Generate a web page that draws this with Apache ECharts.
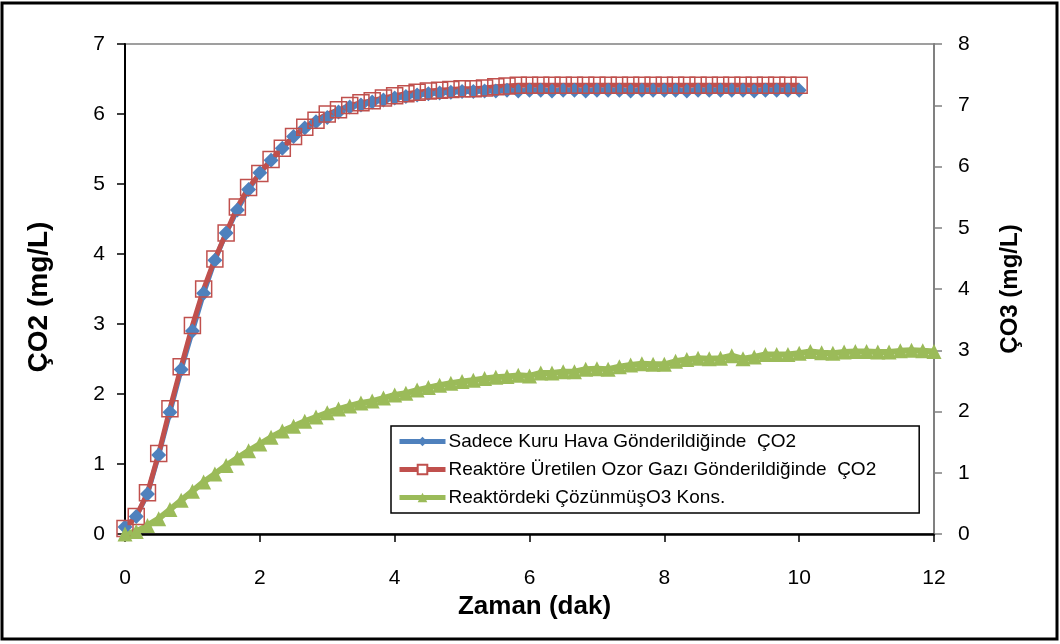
<!DOCTYPE html>
<html>
<head>
<meta charset="utf-8">
<script src="https://cdn.jsdelivr.net/npm/echarts@6/dist/echarts.min.js"></script>
<style>
  html, body { margin: 0; padding: 0; background: #fff; }
  #chart { width: 1060px; height: 644px; }
</style>
</head>
<body>
<div id="chart"></div>
<script>
// Samples were taken every 10 seconds; times are expressed in minutes.
const sampleIntervalSec = 10;

// CO2 (mg/L) with dry air only
const co2DryAir = [
  0.10, 0.25, 0.57, 1.13, 1.74, 2.35, 2.90, 3.44, 3.91, 4.30,
  4.63, 4.92, 5.16, 5.34, 5.51, 5.68, 5.80, 5.89, 5.95, 6.03,
  6.10, 6.13, 6.17, 6.20, 6.23, 6.25, 6.27, 6.29, 6.30, 6.31,
  6.32, 6.32, 6.33, 6.33, 6.34, 6.33, 6.34, 6.34, 6.33, 6.34,
  6.34, 6.33, 6.34, 6.34, 6.34, 6.33, 6.34, 6.34, 6.34, 6.34,
  6.33, 6.34, 6.34, 6.34, 6.34, 6.34, 6.33, 6.34, 6.34, 6.34,
  6.34
];

// CO2 (mg/L) with ozone gas fed to the reactor
const co2OzoneGas = [
  0.08, 0.25, 0.59, 1.15, 1.79, 2.39, 2.98, 3.50, 3.93, 4.30,
  4.67, 4.95, 5.15, 5.35, 5.51, 5.68, 5.81, 5.91, 6.00, 6.06,
  6.12, 6.16, 6.19, 6.23, 6.26, 6.29, 6.31, 6.33, 6.34, 6.35,
  6.36, 6.36, 6.37, 6.39, 6.40, 6.41, 6.41, 6.41, 6.41, 6.41,
  6.41, 6.41, 6.41, 6.41, 6.41, 6.41, 6.41, 6.41, 6.41, 6.41,
  6.41, 6.41, 6.41, 6.41, 6.41, 6.41, 6.41, 6.41, 6.41, 6.41,
  6.41
];

// Dissolved O3 (mg/L) in the reactor
const o3Dissolved = [
  0.00, 0.04, 0.14, 0.25, 0.40, 0.55, 0.70, 0.85, 0.98, 1.12,
  1.24, 1.36, 1.47, 1.58, 1.68, 1.76, 1.84, 1.91, 1.98, 2.04,
  2.09, 2.14, 2.17, 2.22, 2.27, 2.30, 2.35, 2.39, 2.43, 2.46,
  2.49, 2.51, 2.54, 2.56, 2.57, 2.59, 2.58, 2.63, 2.63, 2.65,
  2.65, 2.69, 2.70, 2.69, 2.73, 2.76, 2.78, 2.77, 2.77, 2.82,
  2.85, 2.87, 2.86, 2.87, 2.91, 2.86, 2.89, 2.93, 2.93, 2.93,
  2.95, 2.98, 2.96, 2.95, 2.97, 2.98, 2.98, 2.97, 2.97, 2.99,
  3.00, 2.99, 2.98
];

const seriesNames = [
  'Sadece Kuru Hava Gönderildiğinde  ÇO2',
  'Reaktöre Üretilen Ozor Gazı Gönderildiğinde  ÇO2',
  'Reaktördeki ÇözünmüşO3 Kons.'
];
const xAxisTitle = 'Zaman (dak)';
const leftAxisTitle = 'ÇO2 (mg/L)';
const rightAxisTitle = 'ÇO3 (mg/L)';

const FONT = '"Liberation Sans", Arial, sans-serif';
const BLUE = '#4F81BD', RED = '#C0504D', GREEN = '#9BBB59';

const toPoints = arr => arr.map((v, i) => [i * sampleIntervalSec / 60, v]);

const chart = echarts.init(document.getElementById('chart'), null, { renderer: 'canvas' });

chart.setOption({
  animation: false,
  backgroundColor: '#fff',
  textStyle: { fontFamily: FONT, color: '#000' },
  graphic: [{
    type: 'rect',
    shape: { x: 2, y: 3, width: 1055, height: 636 },
    style: { fill: 'none', stroke: '#000', lineWidth: 3 },
    silent: true
  }],
  grid: {
    left: 125, right: 126, top: 44, bottom: 110,
    show: true, borderColor: '#808080', borderWidth: 1.5, backgroundColor: '#fff'
  },
  legend: {
    orient: 'vertical',
    left: 391, top: 426,
    padding: [6, 43, 6, 6],
    itemGap: 9,
    itemWidth: 46, itemHeight: 12,
    borderColor: '#000', borderWidth: 1.5,
    backgroundColor: '#fff',
    lineStyle: { width: 5 },
    textStyle: { fontFamily: FONT, fontSize: 19, color: '#000', padding: [0, 0, 0, -2] },
    data: [
      { name: seriesNames[0] },
      { name: seriesNames[1], itemStyle: { color: '#fff' } },
      { name: seriesNames[2] }
    ]
  },
  xAxis: {
    type: 'value', min: 0, max: 12, interval: 2,
    axisLine: { show: true, onZero: false, lineStyle: { color: '#000', width: 2.5 } },
    axisTick: { show: true, length: 8, lineStyle: { color: '#000', width: 1.5 } },
    splitLine: { show: false },
    axisLabel: { fontSize: 21, color: '#000', margin: 34, fontFamily: FONT },
    name: xAxisTitle, nameLocation: 'middle', nameGap: 56,
    nameTextStyle: { fontSize: 26, fontWeight: 'bold', color: '#000', fontFamily: FONT, padding: [0, 0, 0, 10] }
  },
  yAxis: [{
    type: 'value', min: 0, max: 7, interval: 1, position: 'left',
    axisLine: { show: true, onZero: false, lineStyle: { color: '#000', width: 2 } },
    axisTick: { show: true, length: 8, lineStyle: { color: '#000', width: 1.5 } },
    splitLine: { show: false },
    axisLabel: { fontSize: 21, color: '#000', margin: 20, fontFamily: FONT },
    name: leftAxisTitle, nameLocation: 'middle', nameRotate: 90, nameGap: 72,
    nameTextStyle: { fontSize: 28, fontWeight: 'bold', color: '#000', fontFamily: FONT, padding: [0, 16, 0, 0] }
  }, {
    type: 'value', min: 0, max: 8, interval: 1, position: 'right',
    axisLine: { show: true, onZero: false, lineStyle: { color: '#808080', width: 2 } },
    axisTick: { show: true, length: 8, lineStyle: { color: '#808080', width: 1.5 } },
    splitLine: { show: false },
    axisLabel: { fontSize: 21, color: '#000', margin: 24, fontFamily: FONT },
    name: rightAxisTitle, nameLocation: 'middle', nameRotate: 90, nameGap: 64,
    nameTextStyle: { fontSize: 24, fontWeight: 'bold', color: '#000', fontFamily: FONT }
  }],
  series: [{
    name: seriesNames[0],
    type: 'line', yAxisIndex: 0,
    data: toPoints(co2DryAir),
    symbol: 'diamond', symbolSize: 15, showAllSymbol: true,
    itemStyle: { color: BLUE },
    lineStyle: { color: BLUE, width: 5 },
    emphasis: { disabled: true }
  }, {
    name: seriesNames[1],
    type: 'line', yAxisIndex: 0,
    data: toPoints(co2OzoneGas),
    symbol: 'rect', symbolSize: 16, showAllSymbol: true,
    itemStyle: { color: 'rgba(255,255,255,0)', borderColor: RED, borderWidth: 1.5 },
    lineStyle: { color: RED, width: 5 },
    emphasis: { disabled: true }
  }, {
    name: seriesNames[2],
    type: 'line', yAxisIndex: 1,
    data: toPoints(o3Dissolved),
    symbol: 'triangle', symbolSize: 15, showAllSymbol: true,
    itemStyle: { color: GREEN },
    lineStyle: { color: GREEN, width: 6 },
    emphasis: { disabled: true }
  }]
});
</script>
</body>
</html>
